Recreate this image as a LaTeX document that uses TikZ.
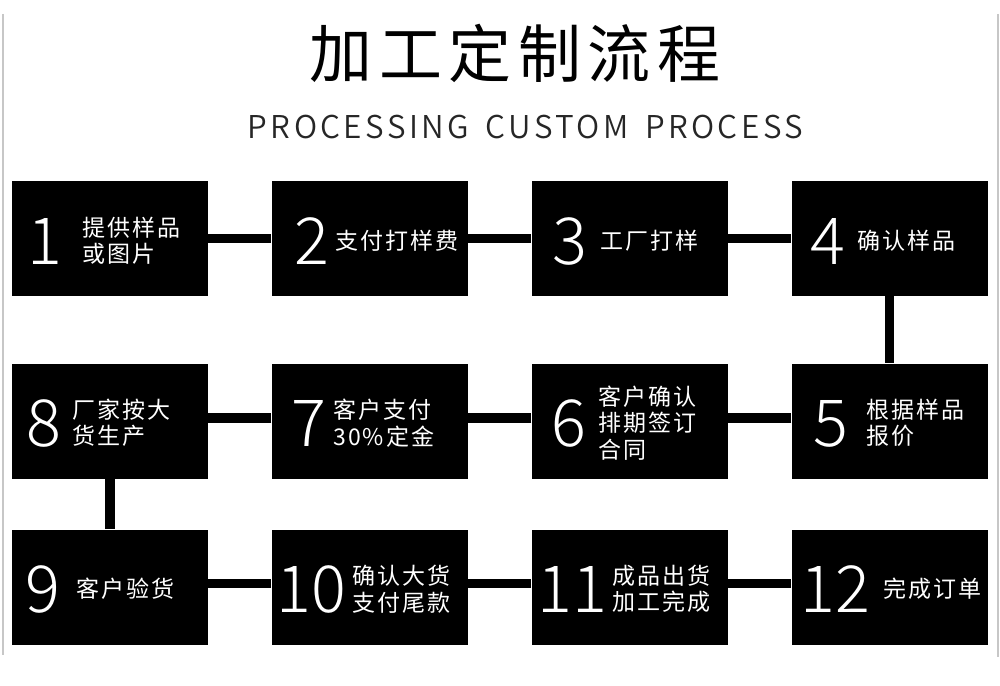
\documentclass[tikz,border=0pt]{standalone}
\usepackage{fontspec}
\setmainfont{Noto Sans CJK SC}
\newfontfamily\titlefont{Noto Sans CJK SC}[LetterSpace=10.5]
\IfFontExistsTF{Noto Sans CJK SC Light}{%
  \newfontfamily\numfont{Noto Sans CJK SC Light}%
}{%
  \newfontfamily\numfont{Noto Sans CJK SC}%
}
\IfFontExistsTF{Noto Sans CJK SC DemiLight}{%
  \newfontfamily\subfont{Noto Sans CJK SC DemiLight}[LetterSpace=11]%
}{%
  \newfontfamily\subfont{Noto Sans CJK SC}[LetterSpace=10]%
}
\newfontfamily\lblfont{Noto Sans CJK SC}[LetterSpace=9]
\begin{document}
\begin{tikzpicture}[x=1pt,y=-1pt,
  box/.style={fill=black, draw=none, minimum width=196pt, minimum height=115pt, inner sep=0pt},
  num/.style={text=white, font=\numfont\fontsize{65}{70}\selectfont, inner sep=0pt, anchor=center},
  lbl/.style={text=white, font=\lblfont\fontsize{23}{26.5}\selectfont, inner sep=0pt, anchor=west, align=left},
  link/.style={draw=black, line width=9.5pt},
  edgeline/.style={draw=black!22, line width=2pt}]
\useasboundingbox (0,0) rectangle (1000,685);
\fill[white] (0,0) rectangle (1000,685);

% border lines
\coordinate (gl1) at (2.5,14);
\coordinate (gl2) at (2.5,655);
\coordinate (gr1) at (997.5,14);
\coordinate (gr2) at (997.5,657);
\draw[edgeline] (gl1) -- (gl2);
\draw[edgeline] (gr1) -- (gr2);

% title
\node[font=\titlefont\fontsize{63}{70}\selectfont, inner sep=0pt] (title) at (515,53.5) {加工定制流程};
\node[font=\subfont\fontsize{31.4}{36}\selectfont, text=black!85, inner sep=0pt] (sub) at (525.5,127.5) {PROCESSING\hspace{6pt} CUSTOM\hspace{6pt} PROCESS};

% boxes
\node[box] (b1) at (110,238.5) {};
\node[box] (b2) at (369.5,238.5) {};
\node[box] (b3) at (629.5,238.5) {};
\node[box] (b4) at (889.5,238.5) {};
\node[box] (b5) at (889.5,421) {};
\node[box] (b6) at (629.5,421) {};
\node[box] (b7) at (369.5,421) {};
\node[box] (b8) at (110,421) {};
\node[box] (b9) at (110,587) {};
\node[box] (b10) at (369.5,587) {};
\node[box] (b11) at (629.5,587) {};
\node[box] (b12) at (889.5,587) {};

% connectors
\draw[link] (b1) -- (b2);
\draw[link] (b2) -- (b3);
\draw[link] (b3) -- (b4);
\draw[link] (b4) -- (b5);
\draw[link] ([yshift=3pt]b5.west) -- ([yshift=3pt]b6.east);
\draw[link] ([yshift=3pt]b6.west) -- ([yshift=3pt]b7.east);
\draw[link] ([yshift=3pt]b7.west) -- ([yshift=3pt]b8.east);
\draw[link] (b8) -- (b9);
\draw[link] ([yshift=3.5pt]b9.east) -- ([yshift=3.5pt]b10.west);
\draw[link] ([yshift=3.5pt]b10.east) -- ([yshift=3.5pt]b11.west);
\draw[link] ([yshift=3.5pt]b11.east) -- ([yshift=3.5pt]b12.west);

% numbers
\node[num] (n1) at (45,241) {1};
\node[num] (n2) at (312,241) {2};
\node[num] (n3) at (570,241) {3};
\node[num] (n4) at (827.5,241) {4};
\node[num] (n5) at (831,423.5) {5};
\node[num] (n6) at (569,423.5) {6};
\node[num] (n7) at (308.5,423.5) {7};
\node[num] (n8) at (44,423.5) {8};
\node[num] (n9) at (43,589.5) {9};
\node[num] (n10) at (311.5,589.5) {10};
\node[num] (n11) at (572.5,589.5) {11};
\node[num] (n12) at (835,589.5) {12};

% labels
\node[lbl] (t1) at (82,240.5) {提供样品\\或图片};
\node[lbl] (t2) at (335,240.5) {支付打样费};
\node[lbl] (t3) at (600,240.5) {工厂打样};
\node[lbl] (t4) at (857,240.5) {确认样品};
\node[lbl] (t5) at (866,423) {根据样品\\报价};
\node[lbl] (t6) at (598,423) {客户确认\\排期签订\\合同};
\node[lbl] (t7) at (333,423) {客户支付\\30\%定金};
\node[lbl] (t8) at (72,423) {厂家按大\\货生产};
\node[lbl] (t9) at (76,589) {客户验货};
\node[lbl] (t10) at (352,589) {确认大货\\支付尾款};
\node[lbl] (t11) at (612,589) {成品出货\\加工完成};
\node[lbl] (t12) at (883,589) {完成订单};
\end{tikzpicture}
\end{document}
